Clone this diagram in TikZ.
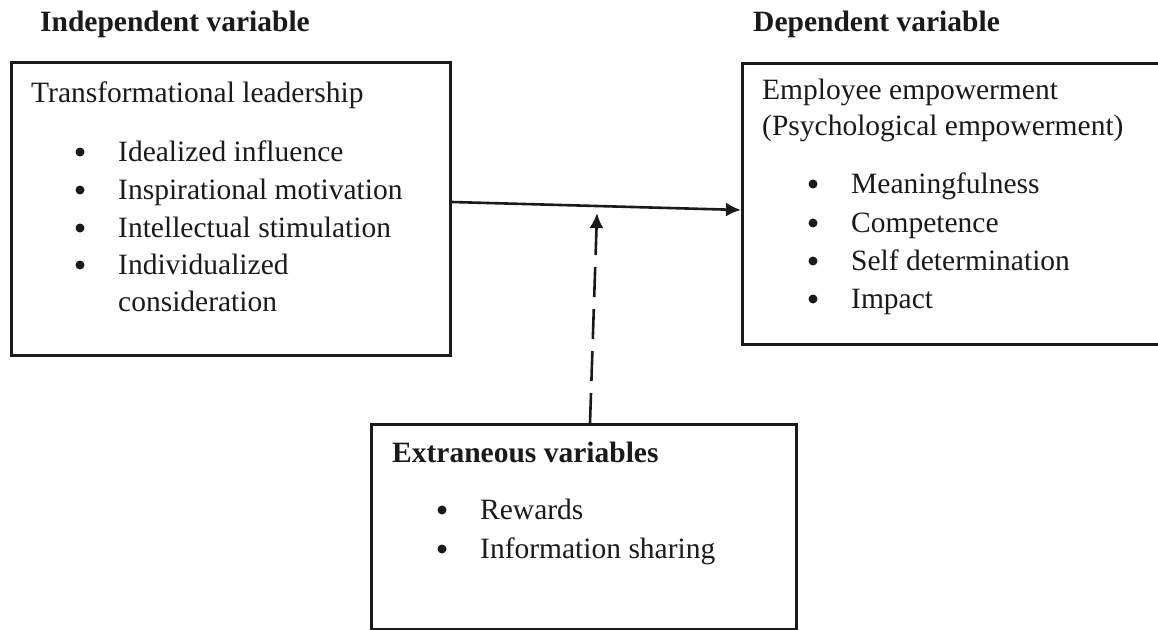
\documentclass[tikz,border=0pt]{standalone}
\usepackage{fontspec}
\setmainfont{Liberation Serif}
\usetikzlibrary{arrows.meta,calc}
\definecolor{ink}{HTML}{1A1A1A}
\begin{document}
\begin{tikzpicture}[x=1pt,y=-1pt,
  every node/.style={text=ink},
  frame/.style={draw=ink,line width=3pt,rectangle,inner sep=0pt,anchor=north west},
  txt/.style={anchor=base west,inner sep=0pt,font=\fontsize{29.5}{38}\selectfont},
  head/.style={txt,font=\fontsize{29.5}{38}\selectfont\bfseries},
  bul/.style={circle,fill=ink,inner sep=0pt,minimum size=9pt},
  conn/.style={draw=ink,line width=2.6pt,-{Latex[length=15pt,width=14pt]}},
  dashconn/.style={conn,dash pattern=on 30pt off 12pt}]
\useasboundingbox (0,0) rectangle (1158,629);
\clip (0,0) rectangle (1158,629);
% headings
\node[head] (hI) at (40,31) {Independent variable};
\node[head] (hD) at (753,31) {Dependent variable};
% boxes
\node[frame,minimum width=439.5pt,minimum height=293pt] (L) at (9.5,61) {};
\node[frame,minimum width=440pt,minimum height=281pt] (R) at (741,62) {};
\node[frame,minimum width=425pt,minimum height=205pt] (B) at (370,423) {};
% left box text
\node[txt] (l0) at (31,102) {Transformational leadership};
\node[bul] (lb1) at (80,152) {};
\node[bul] (lb2) at (80,190) {};
\node[bul] (lb3) at (80,228) {};
\node[bul] (lb4) at (80,265) {};
\node[txt] (l1) at (118,161) {Idealized influence};
\node[txt] (l2) at (118,199) {Inspirational motivation};
\node[txt] (l3) at (118,237) {Intellectual stimulation};
\node[txt] (l4) at (118,274) {Individualized};
\node[txt] (l5) at (118,311) {consideration};
% right box text
\node[txt] (r0) at (762,99) {Employee empowerment};
\node[txt] (r00) at (762,135) {(Psychological empowerment)};
\node[bul] (rb1) at (813,184) {};
\node[bul] (rb2) at (813,223) {};
\node[bul] (rb3) at (813,261) {};
\node[bul] (rb4) at (813,299) {};
\node[txt] (r1) at (851,193) {Meaningfulness};
\node[txt] (r2) at (851,232) {Competence};
\node[txt] (r3) at (851,270) {Self determination};
\node[txt] (r4) at (851,308) {Impact};
% bottom box text
\node[head] (b0) at (392,462) {Extraneous variables};
\node[bul] (bb1) at (442,510) {};
\node[bul] (bb2) at (442,549) {};
\node[txt] (b1) at (480,519) {Rewards};
\node[txt] (b2) at (480,558) {Information sharing};
% connectors
\coordinate (ys) at (0,202);
\coordinate (ye) at (0,210);
\coordinate (xd) at (590,0);
\coordinate (tip) at (597,213);
\draw[conn] (L.east |- ys) -- (R.west |- ye);
\draw[dashconn] (B.north -| xd) -- (tip);
\end{tikzpicture}
\end{document}
